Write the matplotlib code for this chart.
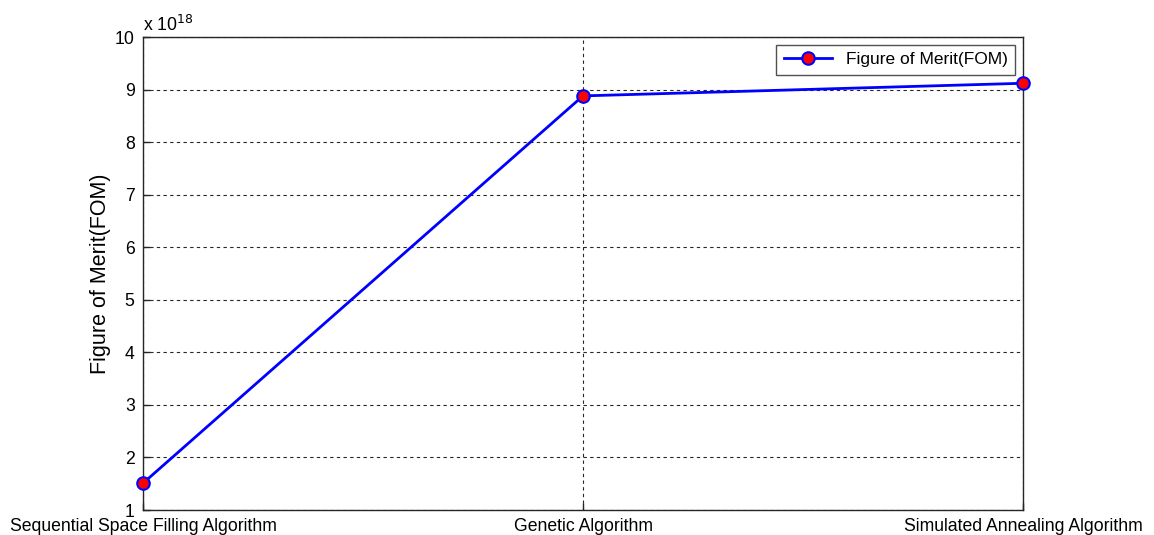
import matplotlib
matplotlib.use("Agg")
import matplotlib.pyplot as plt

plt.rcParams['font.family'] = ['Liberation Sans', 'DejaVu Sans']

algorithms = ["Sequential Space Filling Algorithm", "Genetic Algorithm",
              "Simulated Annealing Algorithm"]
fom = [1.51, 8.88, 9.12]  # x 10^18
yticks = list(range(1, 11))

fig = plt.figure(figsize=(11.54, 5.35), dpi=100)
ax = fig.add_axes([0.1239, 0.0467, 0.7626, 0.8841])

xs = list(range(1, len(algorithms) + 1))
ax.plot(xs, fom, color='#0000ff', linewidth=2, marker='o', markersize=9,
        markerfacecolor='red', markeredgecolor='#0000ff', markeredgewidth=1.5,
        label='Figure of Merit(FOM)', clip_on=False, zorder=3)

ax.set_xlim(1, 3)
ax.set_ylim(1, 10)
ax.set_xticks(xs)
ax.set_xticklabels(algorithms, fontsize=12.7)
ax.set_yticks(yticks)
ax.set_yticklabels([str(t) for t in yticks], fontsize=12.7)
ax.tick_params(direction='in', length=5, width=1, color='#262626', pad=6)
for sp in ax.spines.values():
    sp.set_color('#262626')
    sp.set_linewidth(1)

ax.grid(True, linestyle=(0, (3, 3)), color='#262626', linewidth=0.8)
ax.set_ylabel('Figure of Merit(FOM)', fontsize=15.5, labelpad=3)

ax.text(0.0, 1.005, r'x 10$^{18}$', transform=ax.transAxes, fontsize=12.7,
        ha='left', va='bottom')

leg = ax.legend(loc='upper right', fontsize=12.5, frameon=True, fancybox=False,
                borderaxespad=0.45, handlelength=2.8, borderpad=0.42)
leg.get_frame().set_edgecolor('#262626')
leg.get_frame().set_linewidth(1)

fig.savefig('out.png', dpi=100)
